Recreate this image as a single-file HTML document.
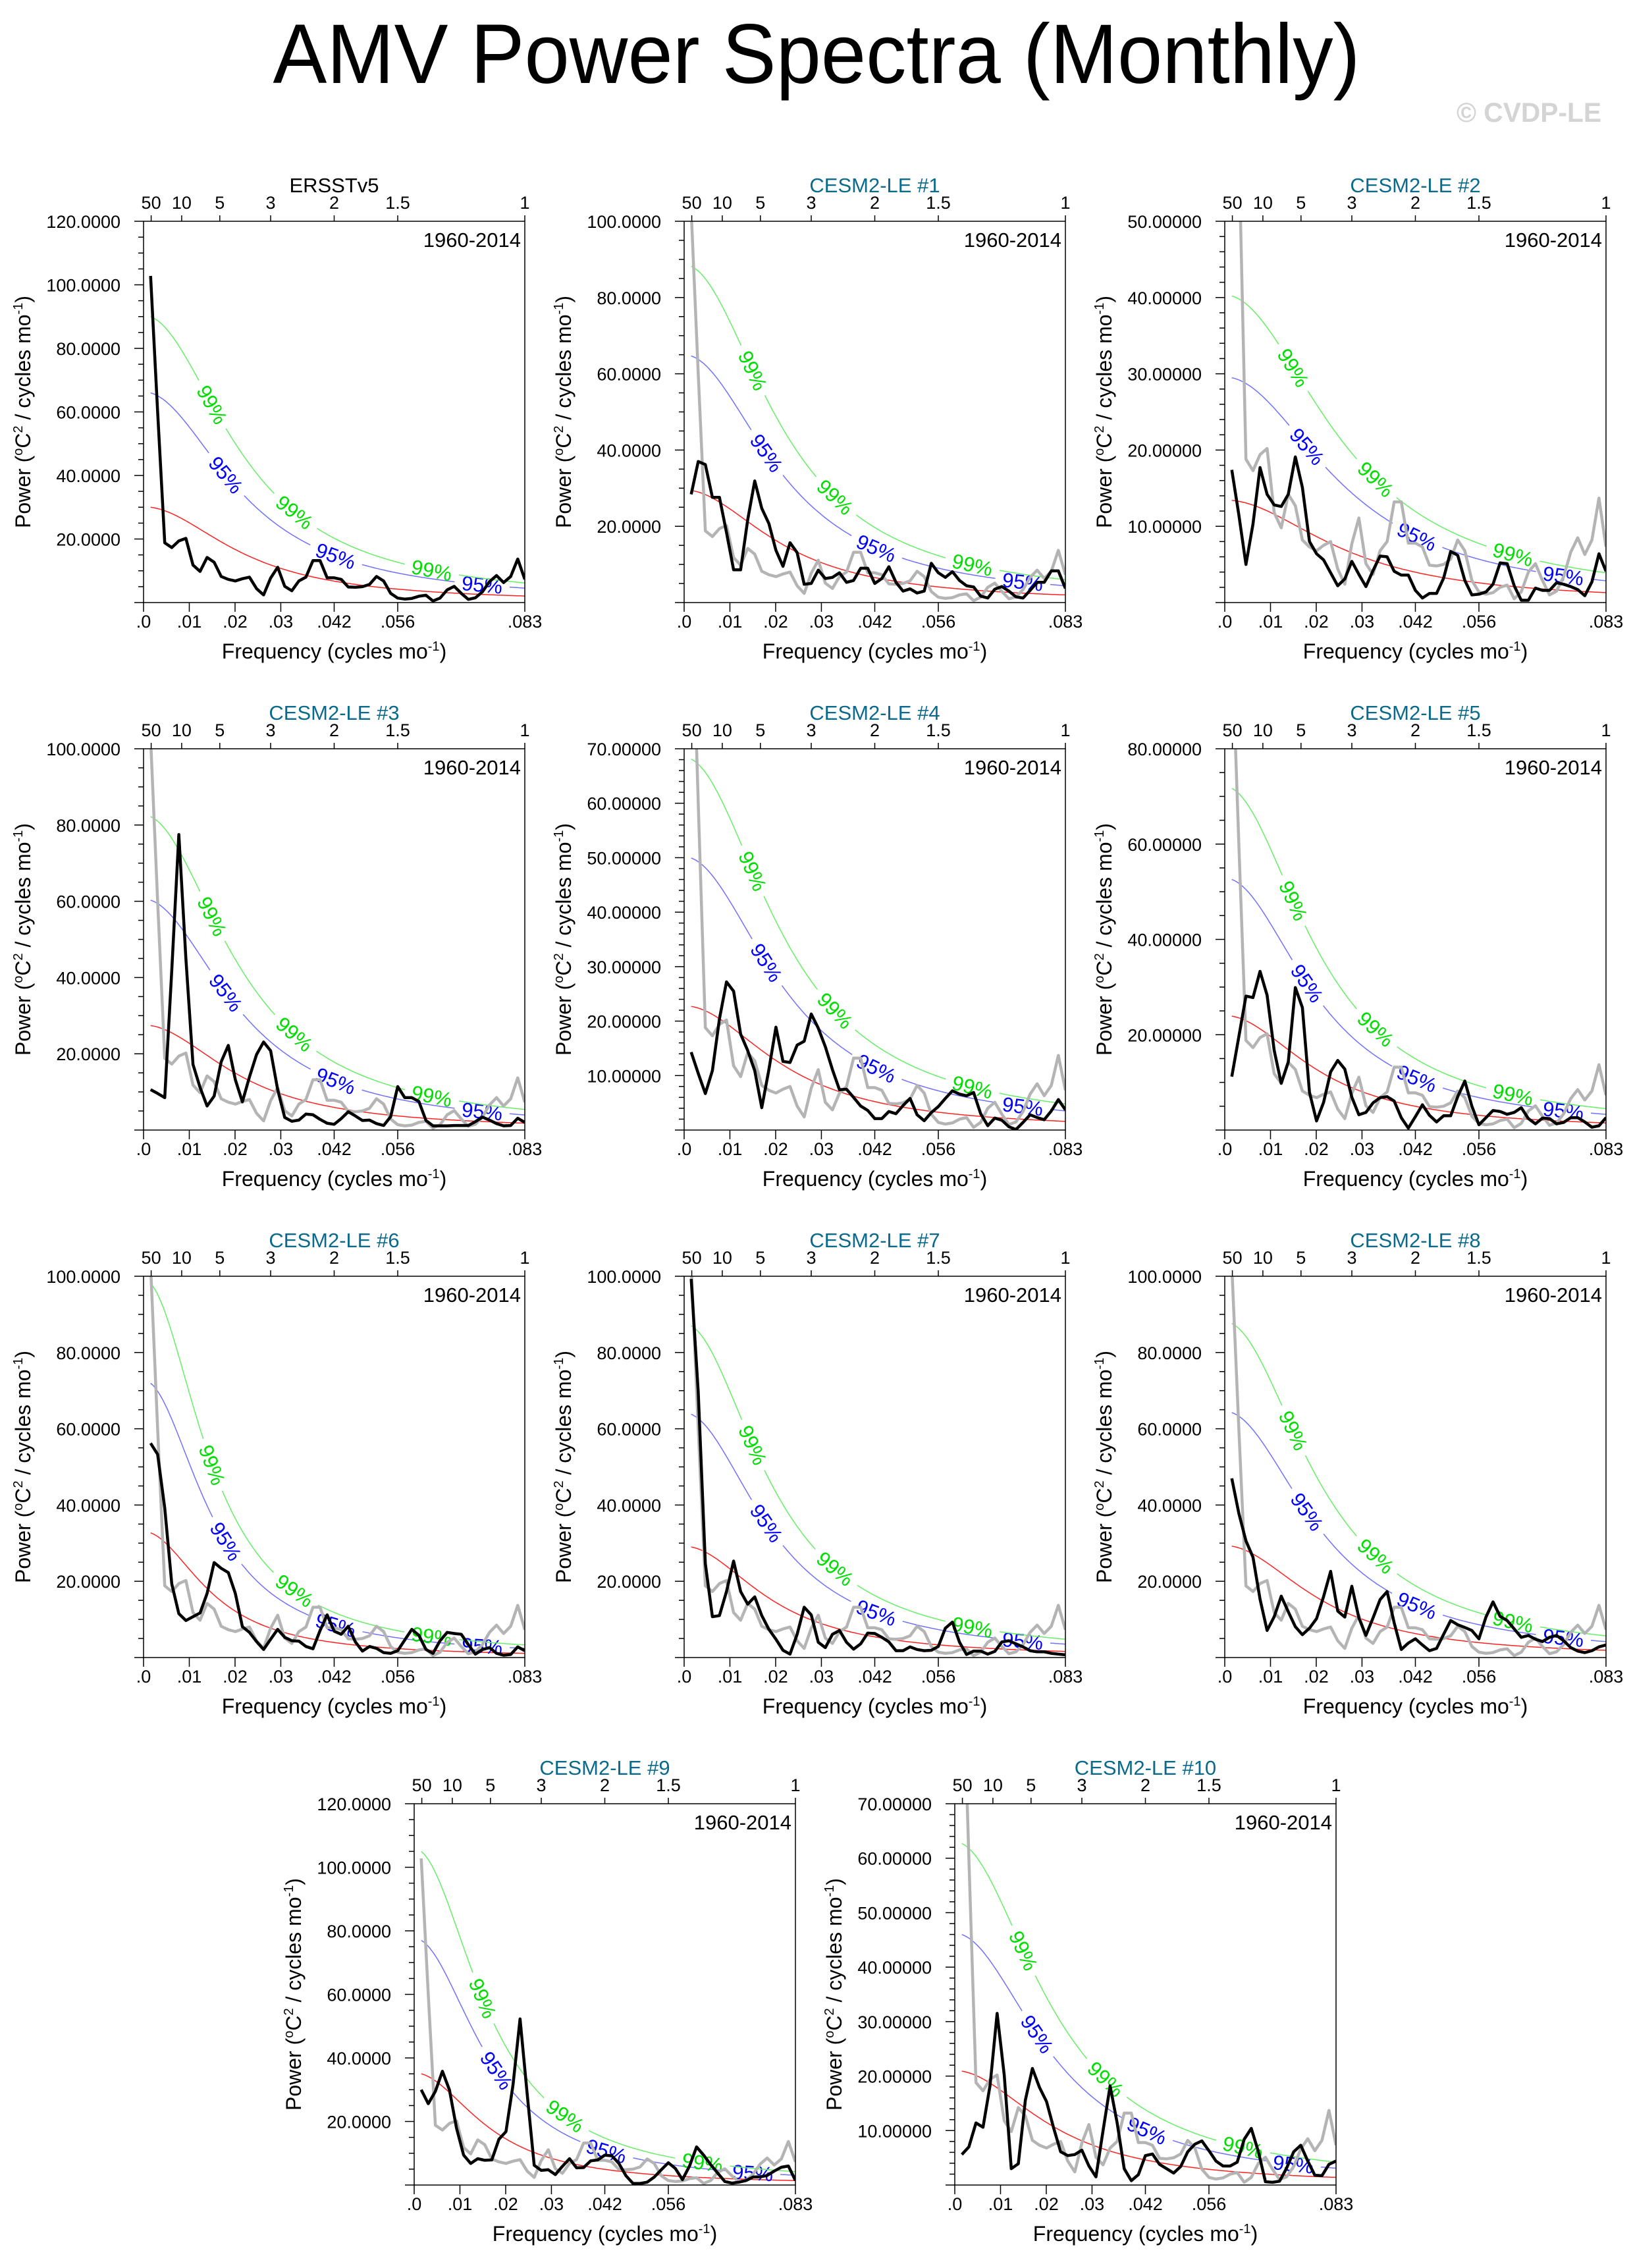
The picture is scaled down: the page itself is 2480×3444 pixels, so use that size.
<!DOCTYPE html>
<html><head><meta charset="utf-8"><title>AMV Power Spectra (Monthly)</title>
<style>
html,body{margin:0;padding:0;background:#fff;}
svg{display:block;font-family:"Liberation Sans",Arial,sans-serif;}
</style></head>
<body>
<svg id="fig" xmlns="http://www.w3.org/2000/svg" width="2480" height="3444" viewBox="0 0 2480 3444">
<rect x="0" y="0" width="2480" height="3444" fill="#fff"/>
<text x="1240" y="126" font-size="128" text-anchor="middle" textLength="1651" lengthAdjust="spacingAndGlyphs" fill="#000">AMV Power Spectra (Monthly)</text>
<text x="2432" y="185" font-size="42" font-weight="bold" text-anchor="end" textLength="220" lengthAdjust="spacingAndGlyphs" fill="#d4d4d4">© CVDP-LE</text>
<g id="panels"></g>
</svg>
<script>
const panelTitles = ['ERSSTv5','CESM2-LE #1','CESM2-LE #2','CESM2-LE #3','CESM2-LE #4','CESM2-LE #5','CESM2-LE #6','CESM2-LE #7','CESM2-LE #8','CESM2-LE #9','CESM2-LE #10'];
const yMax = [120,100,50,100,70,80,100,100,100,120,70];
const yMajor = [20,20,10,20,10,20,20,20,20,20,10];
const yMinor = [5,5,2,5,2,5,5,5,5,5,2];
const redStart = [30,29.4,13.4,27.4,22.7,23.9,32.7,29.0,29.2,35.0,20.9];
const redEnd = [2.06,2.0,1.3,1.8,1.6,1.5,1.1,1.6,1.9,1.4,1.4];
const sig95 = 2.2;
const sig99 = 3.0;
const xTickLabels = ['.0','.01','.02','.03','.042','.056','.083'];
const xTickVals = [0,0.01,0.02,0.03,1/24,1/18,1/12];
const periodLabels = ['50','10','5','3','2','1.5','1'];
const periodYears = [50,10,5,3,2,1.5,1];
const label99Freqs = [0.015,0.033,0.063];
const label95Freqs = [0.018,0.042,0.074];
const obs = [102.8,60,18.8,17.3,19.4,20.2,11.8,9.8,14.2,12.7,8.2,7.3,6.8,7.5,8.0,4.4,2.4,7.7,11.1,5.1,3.7,6.8,8.0,13.2,13.2,7.8,7.8,7.3,4.9,4.8,5.0,5.7,8.2,6.8,2.9,1.4,1.1,1.3,2.0,2.3,0.5,1.4,4.0,5.1,2.9,1.0,1.5,3.4,6.6,8.5,6.3,8.2,13.7,7.3];
const m1 = [28.4,37.0,36.2,27.6,27.6,18.4,8.6,8.6,21.7,31.9,24.7,20.7,13.7,9.5,15.7,13.1,4.8,5.0,8.5,6.3,6.6,7.8,5.3,5.8,9.0,9.0,5.0,6.3,9.4,5.3,3.0,3.6,2.5,3.0,10.3,7.8,6.6,8.1,5.8,4.4,4.1,1.7,1.2,3.5,4.2,3.0,1.5,1.2,3.2,5.3,5.3,8.3,8.3,3.7];
const m2 = [17.4,11.5,5.0,10.3,17.7,14.2,12.8,12.6,14.2,19.1,15.1,8.0,6.4,5.6,3.9,2.2,3.1,5.4,3.7,2.1,4.2,6.1,6.0,4.1,3.6,3.6,1.6,0.6,1.2,1.2,3.2,6.7,6.2,2.9,1.0,1.1,1.4,2.4,5.2,5.1,2.2,0.3,0.3,1.9,1.6,1.6,2.6,2.4,2.1,1.7,0.9,2.7,6.4,4.1];
const m3 = [10.6,9.6,8.5,42,77.5,45,17.2,11.2,6.3,8.9,17.9,22.2,13.2,7.4,13.9,19.8,23.1,20.8,10.6,3.3,2.3,2.6,4.2,4.0,2.8,1.8,1.5,3.0,4.8,3.7,2.5,2.6,1.7,1.2,3.5,11.4,8.5,8.5,7.5,2.5,1.1,1.1,1.1,1.2,1.2,1.2,2.2,3.4,2.6,1.7,1.1,1.2,3.1,2.0];
const m4 = [14.3,10.4,6.7,10.9,20.4,27.2,25.5,17.6,14.6,10.9,4.1,11.1,18.9,12.6,12.4,15.6,16.3,21.3,18.7,15.3,11.1,7.4,7.5,6.0,4.4,3.6,2.1,2.1,3.4,3.0,4.5,5.8,2.8,1.7,3.2,4.3,5.8,7.2,6.6,6.3,6.9,3.0,0.8,2.2,1.8,0.6,0.1,1.4,2.8,2.3,1.9,3.5,5.6,3.7];
const m5 = [11.2,19.6,28.1,27.8,33.3,28.3,16.7,9.8,14.3,29.9,25.7,7.9,1.9,5.8,12.2,14.6,12.8,6.9,3.2,3.7,5.7,6.8,7.0,6.1,2.6,0.4,2.8,5.3,3.1,1.7,3.0,3.0,7.0,10.3,5.0,1.1,2.6,4.1,3.9,3.3,3.7,4.7,2.4,1.3,2.5,2.4,1.3,1.6,2.6,2.6,1.7,0.6,0.9,2.6];
const m6 = [56.2,53.3,39.2,19.3,11.5,9.7,10.7,11.7,16.8,24.9,23.4,22.3,16.8,8.1,6.6,4.2,2.1,4.8,7.4,5.3,4.4,4.3,2.9,2.3,7.1,11.2,6.9,6.1,8.2,4.1,1.7,2.9,2.4,1.3,1.1,1.8,4.6,7.4,5.8,2.1,1.1,4.4,6.6,6.3,6.1,3.4,0.9,2.1,2.6,1.1,0.6,0.8,2.8,1.8];
const m7 = [99.3,69.6,24.6,10.7,11.0,17.3,25.3,17.3,14.0,15.9,11.0,7.4,4.8,1.9,0.9,6.1,13.2,11.2,4.0,2.6,6.1,7.1,4.0,2.2,3.6,6.4,6.3,5.3,4.1,1.8,1.8,2.8,2.1,1.8,1.9,2.9,7.7,9.3,4.0,0.8,1.7,1.7,0.9,1.6,4.1,4.4,3.6,2.8,1.8,1.5,1.5,1.1,0.9,0.7];
const m8 = [47.0,37.8,30.6,26.3,15.3,7.1,10.7,16.1,12.0,8.1,6.0,7.7,10.2,16.0,22.6,12.2,10.6,18.7,10.4,5.8,10.4,15.2,17.3,9.1,2.1,3.8,4.9,3.3,1.8,2.4,6.1,9.7,8.6,7.9,7.1,4.9,10.6,14.6,10.8,9.7,7.5,5.3,5.8,4.8,4.2,5.3,5.8,4.4,2.6,1.7,1.3,1.8,2.8,3.3];
const m9 = [30.0,25.6,29.5,35.8,29.9,17.9,9.4,6.8,8.3,7.8,7.9,14.4,16.8,31.5,52.3,28.7,6.2,4.6,4.8,3.3,5.9,8.3,5.4,5.5,7.6,7.9,9.4,9.2,6.8,2.9,0.5,0.5,0.9,2.5,4.8,7.0,5.2,1.7,6.0,12.0,9.4,6.4,3.7,1.1,0.6,0.9,1.4,2.5,2.6,3.0,4.4,5.6,6.0,1.4];
const m10 = [5.6,7.0,11.4,10.6,18.3,31.5,20.2,3.0,3.9,15.6,21.4,17.9,15.3,10.5,6.1,5.4,5.6,6.4,3.5,1.5,10.0,18.2,11.4,3.0,0.8,1.9,5.4,5.7,3.8,3.0,2.2,3.4,6.1,7.5,8.1,6.3,4.4,3.5,3.5,4.2,8.4,10.4,6.1,0.6,0.5,0.7,3.1,6.1,7.3,4.4,1.8,1.7,3.8,4.4];
const series = [obs,m1,m2,m3,m4,m5,m6,m7,m8,m9,m10];

const NS = 'http://www.w3.org/2000/svg';
const root = document.getElementById('panels');
const panelLeft = [218,1039,1860,218,1039,1860,218,1039,1860,629,1450];
const panelTop = [336,336,336,1137,1137,1137,1938,1938,1938,2739,2739];
const PW = 579, PH = 579;
const FMAX = 1/12;

function mk(parent, tag, attrs, text){
  const e = document.createElementNS(NS, tag);
  for (const k in attrs) e.setAttribute(k, attrs[k]);
  if (text !== undefined) e.textContent = text;
  parent.appendChild(e);
  return e;
}
function markov(f, r){ return 1/(1 - 2*r*Math.cos(2*Math.PI*f) + r*r); }
function fitR(f1, fN, ratio){
  let lo = 0, hi = 0.999;
  for (let i=0;i<60;i++){
    const m = (lo+hi)/2;
    if (markov(f1,m)/markov(fN,m) < ratio) lo = m; else hi = m;
  }
  return (lo+hi)/2;
}

for (let p=0; p<11; p++){
  const L = panelLeft[p], T = panelTop[p];
  const data = series[p];
  const n = data.length;
  const freq = i => (i+1)/n*FMAX;
  const xs = f => L + f/FMAX*PW;
  const ys = v => T + PH - v/yMax[p]*PH;

  const g = mk(root, 'g', {});
  
  

  const clipId = 'clip' + p;
  const defs = mk(g, 'defs', {});
  const cp = mk(defs, 'clipPath', {id: clipId});
  mk(cp, 'rect', {x: L, y: T, width: PW, height: PH});

  const tt = mk(g, 'text', {x: L + PW/2, y: T - 44, 'font-size': 31, 'text-anchor': 'middle', fill: p===0 ? '#000' : '#0a6a8c'}, panelTitles[p]);
  
  

  for (let i=0;i<periodYears.length;i++){
    const x = xs(1/(12*periodYears[i]));
    const tk = mk(g, 'line', {x1: x, x2: x, y1: T, y2: T-9, stroke: '#000', 'stroke-width': 1.5});
    
    
    const tl = mk(g, 'text', {x: x, y: T - 19, 'font-size': 27, 'text-anchor': 'middle', fill: '#000'}, periodLabels[i]);
    
    
  }

  const dec = yMax[p] >= 100 ? 4 : 5;
  for (let v=0; v<=yMax[p]+1e-9; v+=yMinor[p]){
    const y = ys(v);
    const isMaj = Math.abs(v/yMajor[p] - Math.round(v/yMajor[p])) < 1e-6;
    const tk = mk(g, 'line', {x1: L, x2: L - (isMaj ? 14 : 8), y1: y, y2: y, stroke: '#000', 'stroke-width': 1.5});
    
    
    if (isMaj && v > 0){
      const tl = mk(g, 'text', {x: L - 35, y: y + 10, 'font-size': 27, 'text-anchor': 'end', fill: '#000'}, v.toFixed(dec));
      
      
    }
  }

  for (let i=0;i<xTickVals.length;i++){
    const x = xs(xTickVals[i]);
    const tk = mk(g, 'line', {x1: x, x2: x, y1: T+PH, y2: T+PH+14, stroke: '#000', 'stroke-width': 1.5});
    
    
    const tl = mk(g, 'text', {x: x, y: T + PH + 38, 'font-size': 27, 'text-anchor': 'middle', fill: '#000'}, xTickLabels[i]);
    
    
  }

  const xt = mk(g, 'text', {x: L + PW/2, y: T + PH + 85, 'font-size': 32, 'text-anchor': 'middle', fill: '#000'});
  
  
  xt.appendChild(document.createTextNode('Frequency (cycles mo'));
  mk(xt, 'tspan', {'font-size': 20, dy: -12}, '-1');
  mk(xt, 'tspan', {dy: 12}, ')');

  const ycx = L - 172, ycy = T + PH/2;
  const yt = mk(g, 'text', {x: ycx, y: ycy, 'font-size': 32, 'text-anchor': 'middle', fill: '#000', transform: 'rotate(-90 ' + ycx + ' ' + ycy + ')'});
  
  
  yt.appendChild(document.createTextNode('Power ('));
  mk(yt, 'tspan', {'font-size': 20, dy: -12}, 'o');
  mk(yt, 'tspan', {dy: 12}, 'C');
  mk(yt, 'tspan', {'font-size': 20, dy: -12}, '2');
  mk(yt, 'tspan', {dy: 12}, ' / cycles mo');
  mk(yt, 'tspan', {'font-size': 20, dy: -12}, '-1');
  mk(yt, 'tspan', {dy: 12}, ')');

  const f1 = freq(0), fN = freq(n-1);
  const r = fitR(f1, fN, redStart[p]/redEnd[p]);
  const A = redStart[p]/markov(f1, r);
  const red = f => A*markov(f, r);
  const cg = mk(g, 'g', {'clip-path': 'url(#' + clipId + ')'});
  
  

  const curveDefs = [[1,'#ff2020','red-noise-curve',[],'',''],[sig95,'#7070ff','significance-95-curve',label95Freqs,'95%','#0000ff'],[sig99,'#66ee66','significance-99-curve',label99Freqs,'99%','#00dd00']];
  curveDefs.forEach((cd, ci) => {
    const maskId = 'mask' + p + '_' + ci;
    const mask = mk(defs, 'mask', {id: maskId, maskUnits: 'userSpaceOnUse', x: 0, y: 0, width: 2480, height: 3444});
    mk(mask, 'rect', {x: 0, y: 0, width: 2480, height: 3444, fill: '#fff'});
    const labels = [];
    for (const f of cd[3]){
      const x = xs(f), y = ys(red(f)*cd[0]);
      const y2 = ys(red(f+0.0005)*cd[0]), x2 = xs(f+0.0005);
      const ang = Math.atan2(y2 - y, x2 - x)*180/Math.PI;
      mk(mask, 'rect', {x: x - 42, y: y - 20, width: 84, height: 40, fill: '#000', transform: 'rotate(' + ang.toFixed(1) + ' ' + x.toFixed(1) + ' ' + y.toFixed(1) + ')'});
      labels.push([x, y, ang]);
    }
    let d = '';
    for (let j=0;j<=240;j++){
      const f = f1 + (fN - f1)*j/240;
      d += (j ? 'L' : 'M') + xs(f).toFixed(1) + ',' + ys(red(f)*cd[0]).toFixed(1);
    }
    const pth = mk(cg, 'path', {d: d, fill: 'none', stroke: cd[1], 'stroke-width': 1.5, mask: 'url(#' + maskId + ')'});
    
    
    for (const lb of labels){
      const lt = mk(cg, 'text', {x: lb[0], y: lb[1] + 11, 'font-size': 31, 'text-anchor': 'middle', fill: cd[5], transform: 'rotate(' + lb[2].toFixed(1) + ' ' + lb[0].toFixed(1) + ' ' + lb[1].toFixed(1) + ')'}, cd[4]);
      
      
    }
  });

  if (p > 0){
    let d = '';
    for (let i=0;i<obs.length;i++) d += (i ? 'L' : 'M') + xs(freq(i)).toFixed(1) + ',' + ys(obs[i]).toFixed(1);
    const gl = mk(cg, 'path', {d: d, fill: 'none', stroke: '#b4b4b4', 'stroke-width': 4.5, 'stroke-linejoin': 'round'});
    
    
  }
  let d = '';
  for (let i=0;i<n;i++) d += (i ? 'L' : 'M') + xs(freq(i)).toFixed(1) + ',' + ys(data[i]).toFixed(1);
  const bl = mk(cg, 'path', {d: d, fill: 'none', stroke: '#000', 'stroke-width': 4.5, 'stroke-linejoin': 'round'});
  
  

  const pt = mk(g, 'text', {x: L + PW - 6, y: T + 39, 'font-size': 31, 'text-anchor': 'end', fill: '#000'}, '1960-2014');
  
  

  const fr = mk(g, 'rect', {x: L, y: T, width: PW, height: PH, fill: 'none', stroke: '#000', 'stroke-width': 1.5});
  
  
}
</script>
</body></html>
